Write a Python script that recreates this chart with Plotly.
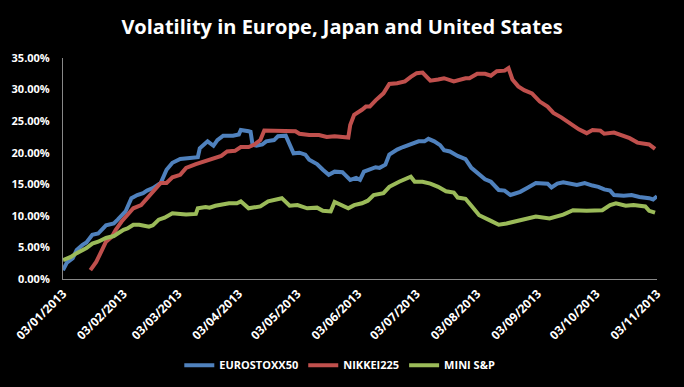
import plotly.graph_objects as go

# ---- data (values in %) ----
euro_dates = ["2013-01-03","2013-01-05","2013-01-08","2013-01-10","2013-01-13","2013-01-15","2013-01-18","2013-01-21",
              "2013-01-25","2013-01-29","2013-01-31","2013-02-04","2013-02-07","2013-02-10","2013-02-13","2013-02-15",
              "2013-02-18","2013-02-22","2013-02-25","2013-02-28","2013-03-04","2013-03-09","2013-03-13","2013-03-14",
              "2013-03-18","2013-03-21","2013-03-23","2013-03-26","2013-03-31","2013-04-03","2013-04-04","2013-04-08",
              "2013-04-09","2013-04-10","2013-04-12","2013-04-15","2013-04-17","2013-04-21","2013-04-23","2013-04-27",
              "2013-04-29","2013-05-01","2013-05-04","2013-05-07","2013-05-09","2013-05-13","2013-05-16","2013-05-19",
              "2013-05-22","2013-05-26","2013-05-27","2013-05-30","2013-06-02","2013-06-04","2013-06-06","2013-06-09",
              "2013-06-12","2013-06-14","2013-06-17","2013-06-19","2013-06-23","2013-06-26","2013-06-30","2013-07-04",
              "2013-07-07","2013-07-09","2013-07-12","2013-07-15","2013-07-17","2013-07-20","2013-07-24","2013-07-28",
              "2013-07-31","2013-08-04","2013-08-07","2013-08-10","2013-08-14","2013-08-17","2013-08-20","2013-08-22",
              "2013-08-25","2013-08-29","2013-09-02","2013-09-08","2013-09-10","2013-09-13","2013-09-16","2013-09-23",
              "2013-09-27","2013-10-01","2013-10-04","2013-10-07","2013-10-10","2013-10-12","2013-10-17","2013-10-21",
              "2013-10-25","2013-10-30","2013-11-01","2013-11-03"]
euro_vals = [1.4,2.6,3.3,4.6,5.4,5.8,7.0,7.2,
             8.5,8.8,9.4,10.7,12.8,13.3,13.6,14.0,
             14.4,15.2,17.3,18.4,19.0,19.1,19.3,20.7,
             21.8,21.1,22.0,22.7,22.7,22.9,23.6,23.4,
             23.3,21.3,21.1,21.3,21.8,22.0,22.6,22.7,
             21.1,19.9,20.0,19.7,18.9,18.2,17.3,16.5,
             17.0,16.9,16.6,15.7,16.0,15.7,17.0,17.3,
             17.7,17.6,18.1,19.7,20.5,20.9,21.3,21.8,
             21.8,22.2,21.8,21.2,20.4,20.2,19.5,19.0,
             17.6,16.5,15.8,15.4,14.1,14.0,13.3,13.5,
             13.8,14.5,15.2,15.1,14.5,15.1,15.3,14.9,
             15.2,14.8,14.6,14.2,14.0,13.3,13.2,13.3,
             13.0,12.8,12.6,13.1]

nikkei_dates = ["2013-01-17","2013-01-20","2013-01-23","2013-01-25","2013-01-28","2013-01-30","2013-02-02","2013-02-05",
                "2013-02-08","2013-02-12","2013-02-16","2013-02-19","2013-02-22","2013-02-25","2013-02-28","2013-03-04",
                "2013-03-07","2013-03-12","2013-03-16","2013-03-21","2013-03-25","2013-03-28","2013-04-01","2013-04-04",
                "2013-04-08","2013-04-11","2013-04-14","2013-04-16","2013-04-21","2013-04-24","2013-04-27","2013-05-02",
                "2013-05-04","2013-05-09","2013-05-14","2013-05-18","2013-05-22","2013-05-26","2013-05-29","2013-05-30",
                "2013-06-01","2013-06-05","2013-06-07","2013-06-09","2013-06-12","2013-06-16","2013-06-19","2013-06-23",
                "2013-06-27","2013-06-30","2013-07-03","2013-07-06","2013-07-10","2013-07-14","2013-07-17","2013-07-22",
                "2013-07-28","2013-07-30","2013-08-03","2013-08-07","2013-08-10","2013-08-13","2013-08-17","2013-08-19",
                "2013-08-21","2013-08-24","2013-08-27","2013-08-31","2013-09-04","2013-09-08","2013-09-11","2013-09-15",
                "2013-09-19","2013-09-24","2013-09-28","2013-10-01","2013-10-05","2013-10-07","2013-10-12","2013-10-16",
                "2013-10-20","2013-10-24","2013-10-27","2013-10-30","2013-11-02"]
nikkei_vals = [1.4,2.7,4.6,5.9,6.7,7.8,9.1,10.2,
               11.2,11.7,13.1,14.1,15.2,15.2,16.1,16.5,
               17.6,18.2,18.6,19.1,19.5,20.2,20.3,20.9,
               20.9,21.3,22.0,23.5,23.5,23.4,23.4,23.4,
               23.0,22.8,22.8,22.5,22.6,22.4,22.4,24.4,
               26.0,26.8,27.3,27.3,28.3,29.4,30.9,31.0,
               31.3,32.0,32.6,32.7,31.4,31.6,31.8,31.3,
               31.8,31.8,32.5,32.5,32.2,32.9,33.0,33.4,
               31.6,30.5,29.9,29.4,28.1,27.3,26.3,25.6,
               24.7,23.7,23.1,23.6,23.5,23.0,23.2,22.7,
               22.3,21.6,21.5,21.3,20.6]

sp_dates = ["2013-01-03","2013-01-07","2013-01-10","2013-01-13","2013-01-15","2013-01-18","2013-01-21","2013-01-25",
            "2013-01-29","2013-01-31","2013-02-03","2013-02-05","2013-02-08","2013-02-11","2013-02-16","2013-02-18",
            "2013-02-21","2013-02-24","2013-02-28","2013-03-04","2013-03-07","2013-03-12","2013-03-13","2013-03-17",
            "2013-03-19","2013-03-22","2013-03-26","2013-03-29","2013-04-02","2013-04-04","2013-04-08","2013-04-14",
            "2013-04-18","2013-04-25","2013-04-29","2013-05-03","2013-05-08","2013-05-13","2013-05-16","2013-05-20",
            "2013-05-22","2013-05-26","2013-05-29","2013-06-01","2013-06-05","2013-06-08","2013-06-11","2013-06-16",
            "2013-06-19","2013-06-24","2013-06-28","2013-06-30","2013-07-02","2013-07-06","2013-07-10","2013-07-14",
            "2013-07-18","2013-07-22","2013-07-24","2013-07-28","2013-07-31","2013-08-04","2013-08-10","2013-08-14",
            "2013-08-18","2013-08-23","2013-08-28","2013-09-02","2013-09-09","2013-09-16","2013-09-21","2013-09-28",
            "2013-10-06","2013-10-10","2013-10-13","2013-10-18","2013-10-22","2013-10-28","2013-10-30","2013-11-02"]
sp_vals = [3.0,3.5,4.1,4.6,4.9,5.6,5.9,6.5,
           6.8,7.2,7.8,8.0,8.6,8.6,8.3,8.5,
           9.4,9.7,10.4,10.3,10.2,10.3,11.2,11.4,
           11.3,11.6,11.8,12.0,12.0,12.3,11.2,11.5,
           12.3,12.8,11.6,11.7,11.2,11.3,10.8,10.7,
           12.2,11.7,11.2,11.7,12.0,12.4,13.3,13.6,
           14.6,15.4,16.0,16.2,15.4,15.4,15.1,14.6,
           13.9,13.7,12.9,12.7,11.6,10.1,9.2,8.6,
           8.8,9.2,9.6,9.9,9.6,10.2,10.9,10.8,
           10.9,11.7,12.0,11.6,11.7,11.5,10.8,10.5]

tick_dates = ["2013-01-03","2013-02-03","2013-03-03","2013-04-03","2013-05-03","2013-06-03",
              "2013-07-03","2013-08-03","2013-09-03","2013-10-03","2013-11-03"]
tick_labels = ["03/01/2013","03/02/2013","03/03/2013","03/04/2013","03/05/2013","03/06/2013",
               "03/07/2013","03/08/2013","03/09/2013","03/10/2013","03/11/2013"]

series = [
    ("EUROSTOXX50", euro_dates, euro_vals, "#4F81BD"),
    ("NIKKEI225", nikkei_dates, nikkei_vals, "#C0504D"),
    ("MINI S&P", sp_dates, sp_vals, "#9BBB59"),
]

FONT = "Open Sans"
fig = go.Figure()
for name, d, v, c in series:
    fig.add_trace(go.Scatter(x=d, y=[val / 100 for val in v], mode="lines", name=name,
                             line=dict(color=c, width=4)))

fig.update_layout(
    width=684, height=387,
    paper_bgcolor="black", plot_bgcolor="black",
    margin=dict(l=63, r=27, t=58, b=108, autoexpand=False),
    title=dict(text="Volatility in Europe, Japan and United States", x=0.5, xanchor="center",
               y=0.93, yanchor="middle",
               font=dict(family=FONT, size=20, color="white", weight="bold")),
    showlegend=True,
    legend=dict(orientation="h", x=0.466, xanchor="center", y=-0.39, yanchor="middle",
                font=dict(family=FONT, size=11, color="white", weight="bold"),
                bgcolor="rgba(0,0,0,0)", itemwidth=30, tracegroupgap=0),
)
fig.update_xaxes(
    type="date", range=["2013-01-03", "2013-11-03"], automargin=False,
    tickvals=tick_dates, ticktext=tick_labels, tickangle=-45,
    tickfont=dict(family=FONT, size=12, color="white", weight="bold"),
    showgrid=False, zeroline=False, showline=True, linecolor="#888888", linewidth=1,
    ticks="", ticklabelstandoff=2,
)
fig.update_yaxes(
    range=[0, 0.35], dtick=0.05, tickformat=".2%", automargin=False,
    tickfont=dict(family=FONT, size=11, color="white", weight="bold"),
    showgrid=False, zeroline=False, showline=True, linecolor="#888888", linewidth=1,
    ticks="", ticklabelstandoff=10,
)

fig.write_html(
    "out.html",
    config={"displayModeBar": False},
    post_script="document.body.style.margin='0';document.body.style.background='black';",
)
